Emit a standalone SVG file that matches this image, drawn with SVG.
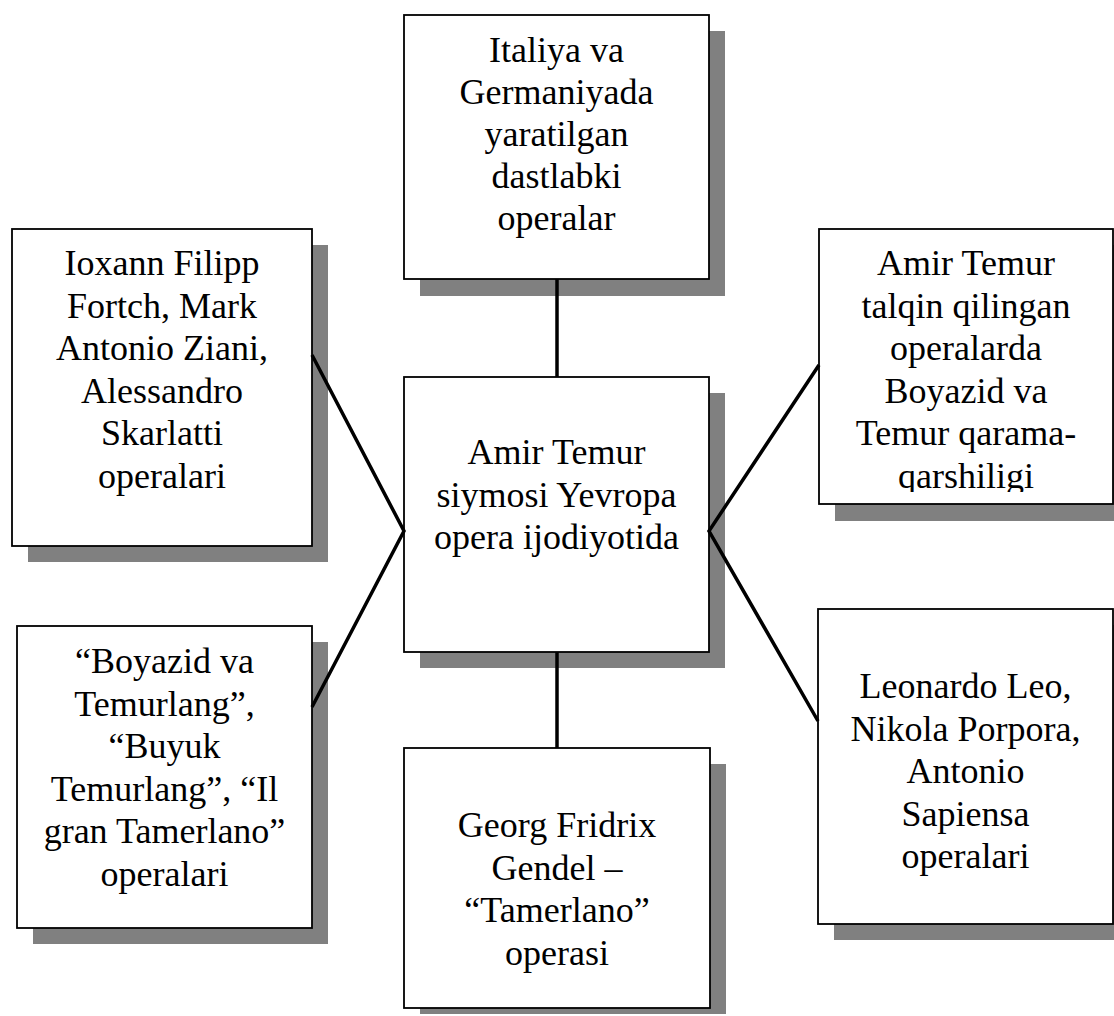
<svg xmlns="http://www.w3.org/2000/svg" width="1114" height="1016" viewBox="0 0 1114 1016">
<style>
.sh{fill:#808080;stroke:none}
.bx{fill:#fff;stroke:#000;stroke-width:1.8}
.t{font-family:"Liberation Serif","Times New Roman",serif;font-size:36px;fill:#000;text-anchor:middle}
.c{stroke:#000;stroke-width:3.5;fill:none}
</style>
<defs>
<clipPath id="clipRT"><rect x="819" y="229" width="294" height="263"/></clipPath>
</defs>
<rect width="1114" height="1016" fill="#fff"/>
<g id="node-top">
<rect class="sh" x="420" y="31" width="305" height="265"/>
<rect class="bx" x="404" y="15" width="305" height="264"/>
<text class="t" x="556.5" y="62">Italiya va</text>
<text class="t" x="556.5" y="104">Germaniyada</text>
<text class="t" x="556.5" y="146">yaratilgan</text>
<text class="t" x="556.5" y="188">dastlabki</text>
<text class="t" x="556.5" y="230">operalar</text>
</g>
<g id="node-left-top">
<rect class="sh" x="28" y="245" width="300" height="317"/>
<rect class="bx" x="12" y="229" width="300" height="317"/>
<text class="t" x="162" y="275">Ioxann Filipp</text>
<text class="t" x="162" y="317.5">Fortch, Mark</text>
<text class="t" x="162" y="360">Antonio Ziani,</text>
<text class="t" x="162" y="402.5">Alessandro</text>
<text class="t" x="162" y="445">Skarlatti</text>
<text class="t" x="162" y="487.5">operalari</text>
</g>
<g id="node-center">
<rect class="sh" x="420" y="393" width="305" height="275"/>
<rect class="bx" x="404" y="377" width="305" height="275"/>
<text class="t" x="556.5" y="464">Amir Temur</text>
<text class="t" x="556.5" y="506.5">siymosi Yevropa</text>
<text class="t" x="556.5" y="549">opera ijodiyotida</text>
</g>
<g id="node-right-top">
<rect class="sh" x="835" y="245" width="294" height="276"/>
<rect class="bx" x="819" y="229" width="294" height="275"/>
<g clip-path="url(#clipRT)">
<text class="t" x="966" y="275">Amir Temur</text>
<text class="t" x="966" y="317.5">talqin qilingan</text>
<text class="t" x="966" y="360">operalarda</text>
<text class="t" x="966" y="402.5">Boyazid va</text>
<text class="t" x="966" y="445">Temur qarama-</text>
<text class="t" x="966" y="487.5">qarshiligi</text>
</g>
</g>
<g id="node-left-bottom">
<rect class="sh" x="33" y="642" width="295" height="302"/>
<rect class="bx" x="17" y="626" width="295" height="302"/>
<text class="t" x="164.5" y="673">“Boyazid va</text>
<text class="t" x="164.5" y="715.5">Temurlang”,</text>
<text class="t" x="164.5" y="758">“Buyuk</text>
<text class="t" x="164.5" y="800.5">Temurlang”, “Il</text>
<text class="t" x="164.5" y="843">gran Tamerlano”</text>
<text class="t" x="164.5" y="885.5">operalari</text>
</g>
<g id="node-bottom">
<rect class="sh" x="420" y="764" width="306" height="250"/>
<rect class="bx" x="404" y="748" width="306" height="260"/>
<text class="t" x="557" y="837">Georg Fridrix</text>
<text class="t" x="557" y="879.5">Gendel –</text>
<text class="t" x="557" y="922">“Tamerlano”</text>
<text class="t" x="557" y="964.5">operasi</text>
</g>
<g id="node-right-bottom">
<rect class="sh" x="834" y="625" width="295" height="315"/>
<rect class="bx" x="818" y="609" width="295" height="315"/>
<text class="t" x="965.5" y="698">Leonardo Leo,</text>
<text class="t" x="965.5" y="740.5">Nikola Porpora,</text>
<text class="t" x="965.5" y="783">Antonio</text>
<text class="t" x="965.5" y="825.5">Sapiensa</text>
<text class="t" x="965.5" y="868">operalari</text>
</g>
<g id="connectors">
<line class="c" x1="557" y1="279" x2="557" y2="377"/>
<line class="c" x1="557" y1="652" x2="557" y2="748"/>
<polyline class="c" points="312,355 404,531 312,707"/>
<polyline class="c" points="819,365 709,531 818,721"/>
</g>
</svg>
